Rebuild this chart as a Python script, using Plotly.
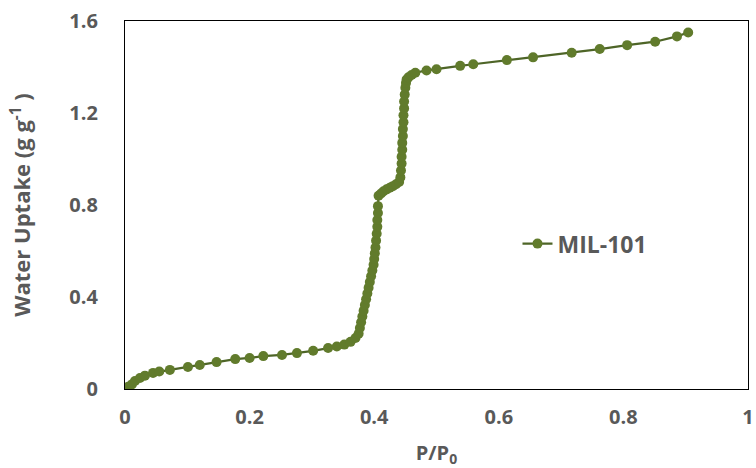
import plotly.graph_objects as go

series_name = "MIL-101"
p_p0 = [0.005, 0.011, 0.016, 0.024, 0.032, 0.045, 0.055, 0.072, 0.101, 0.12, 0.147, 0.177,
        0.2, 0.222, 0.252, 0.276, 0.302, 0.326, 0.34, 0.352, 0.362, 0.37, 0.375, 0.377,
        0.379, 0.381, 0.383, 0.385, 0.387, 0.389, 0.391, 0.393, 0.395, 0.397, 0.399, 0.400,
        0.401, 0.402, 0.403, 0.404, 0.405, 0.405, 0.406, 0.406, 0.407, 0.411, 0.415, 0.42,
        0.425, 0.43, 0.435, 0.44, 0.442, 0.443, 0.444, 0.444, 0.445, 0.445, 0.446, 0.446,
        0.447, 0.447, 0.448, 0.448, 0.449, 0.450, 0.451, 0.452, 0.455, 0.46, 0.466, 0.484,
        0.500, 0.538, 0.559, 0.613, 0.655, 0.717, 0.762, 0.806, 0.851, 0.886, 0.904]
uptake = [0.01, 0.02, 0.035, 0.048, 0.058, 0.07, 0.076, 0.083, 0.096, 0.104, 0.117, 0.13,
          0.135, 0.143, 0.148, 0.156, 0.166, 0.178, 0.185, 0.193, 0.205, 0.222, 0.24, 0.265,
          0.29, 0.315, 0.34, 0.365, 0.39, 0.415, 0.44, 0.465, 0.49, 0.515, 0.54, 0.565,
          0.59, 0.615, 0.645, 0.675, 0.705, 0.735, 0.765, 0.795, 0.84, 0.85, 0.86, 0.868,
          0.875, 0.882, 0.89, 0.9, 0.92, 0.95, 0.98, 1.01, 1.04, 1.07, 1.10, 1.13,
          1.16, 1.19, 1.22, 1.25, 1.28, 1.31, 1.33, 1.345, 1.355, 1.365, 1.375, 1.385,
          1.39, 1.405, 1.412, 1.43, 1.442, 1.462, 1.478, 1.495, 1.51, 1.533, 1.55]

x_ticks = [0, 0.2, 0.4, 0.6, 0.8, 1]
x_tick_labels = ["0", "0.2", "0.4", "0.6", "0.8", "1"]
y_ticks = [0, 0.4, 0.8, 1.2, 1.6]
y_tick_labels = ["0", "0.4", "0.8", "1.2", "1.6"]

gray = "#595959"
font_family = "'Open Sans', sans-serif"

fig = go.Figure()
fig.add_trace(go.Scatter(
    x=p_p0, y=uptake, mode="lines+markers", name=series_name,
    line=dict(color="#4e6527", width=2.2),
    marker=dict(color="#617b2c", size=10, line=dict(width=0)),
))

fig.update_layout(
    width=756, height=468,
    margin=dict(l=125, r=8, t=21, b=79, autoexpand=False),
    plot_bgcolor="white", paper_bgcolor="white",
    font=dict(family=font_family, color=gray, size=20),
    showlegend=True,
    legend=dict(x=0.63, y=0.395, xanchor="left", yanchor="middle",
                bgcolor="rgba(0,0,0,0)",
                font=dict(family=font_family, size=23, color=gray, weight="bold")),
    xaxis=dict(range=[0, 1], tickvals=x_ticks, ticktext=x_tick_labels,
               automargin=False,
               showgrid=False, zeroline=False, showline=True, mirror=True,
               linecolor="black", linewidth=1.3, ticks="", ticklabelstandoff=10,
               tickfont=dict(size=20, color=gray, weight="bold"),
               title=dict(text="P/P<sub>0</sub>", standoff=16,
                          font=dict(size=20, color=gray, weight="bold"))),
    yaxis=dict(range=[0, 1.6], tickvals=y_ticks, ticktext=y_tick_labels,
               automargin=False,
               showgrid=False, zeroline=False, showline=True, mirror=True,
               linecolor="black", linewidth=1.3, ticks="", ticklabelstandoff=22,
               tickfont=dict(size=20, color=gray, weight="bold"),
               title=dict(text="Water Uptake (g g<sup>-1</sup> )", standoff=32,
                          font=dict(size=22, color=gray, weight="bold"))),
)

fig.write_html("out.html")
